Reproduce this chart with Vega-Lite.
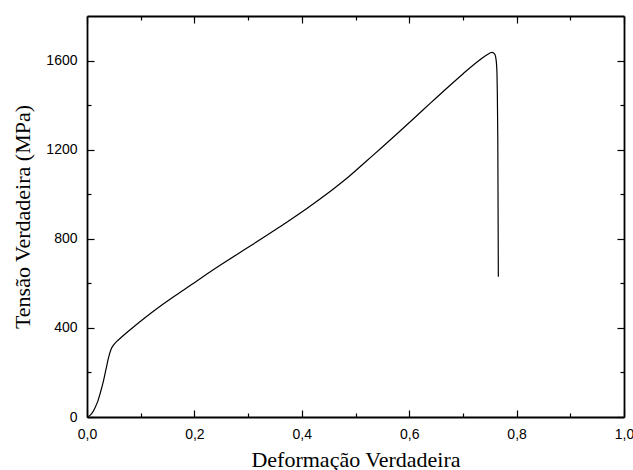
{
  "$schema": "https://vega.github.io/schema/vega-lite/v6.json",
  "width": 537,
  "height": 401,
  "autosize": {"type": "none"},
  "padding": {"left": 87, "top": 16, "right": 9, "bottom": 53},
  "background": "white",
  "config": {"view": {"stroke": null}},
  "data": {"values": [
    {"e": 0, "s": 0},
    {"e": 0.005, "s": 6},
    {"e": 0.01, "s": 20},
    {"e": 0.015, "s": 42},
    {"e": 0.02, "s": 70},
    {"e": 0.025, "s": 110},
    {"e": 0.03, "s": 155},
    {"e": 0.035, "s": 210},
    {"e": 0.04, "s": 265},
    {"e": 0.045, "s": 305},
    {"e": 0.05, "s": 325},
    {"e": 0.055, "s": 338},
    {"e": 0.065, "s": 360},
    {"e": 0.077, "s": 385},
    {"e": 0.09, "s": 411},
    {"e": 0.105, "s": 440},
    {"e": 0.12, "s": 468},
    {"e": 0.14, "s": 504},
    {"e": 0.16, "s": 538},
    {"e": 0.18, "s": 570},
    {"e": 0.2, "s": 603},
    {"e": 0.22, "s": 636},
    {"e": 0.25, "s": 684},
    {"e": 0.28, "s": 731},
    {"e": 0.31, "s": 777},
    {"e": 0.34, "s": 824},
    {"e": 0.37, "s": 871},
    {"e": 0.4, "s": 920},
    {"e": 0.43, "s": 972},
    {"e": 0.46, "s": 1026},
    {"e": 0.49, "s": 1084},
    {"e": 0.52, "s": 1148},
    {"e": 0.55, "s": 1212},
    {"e": 0.58, "s": 1277},
    {"e": 0.61, "s": 1343},
    {"e": 0.64, "s": 1410},
    {"e": 0.67, "s": 1476},
    {"e": 0.7, "s": 1540},
    {"e": 0.73, "s": 1600},
    {"e": 0.745, "s": 1626},
    {"e": 0.754, "s": 1637},
    {"e": 0.759, "s": 1630},
    {"e": 0.762, "s": 1600},
    {"e": 0.7635, "s": 1540},
    {"e": 0.764, "s": 1468},
    {"e": 0.765, "s": 1243},
    {"e": 0.766, "s": 630}
  ]},
  "layer": [
    {
      "mark": {"type": "line", "color": "black", "strokeWidth": 1.2, "interpolate": "monotone"},
      "encoding": {
        "x": {"field": "e", "type": "quantitative", "scale": {"domain": [0, 1], "nice": false},
          "axis": {"orient": "bottom", "values": [0,0.1,0.2,0.3,0.4,0.5,0.6,0.7,0.8,0.9,1.0],
            "title": "Deformação Verdadeira", "titleFont": "Liberation Serif", "titleFontSize": 22, "titleFontWeight": "normal", "titleColor": "black",
            "titleBaseline": "alphabetic", "titleY": 49,
            "labelExpr": "round(datum.value*10) % 2 === 0 ? replace(format(datum.value, '.1f'), '.', ',') : ''",
            "labelFont": "Liberation Sans", "labelFontSize": 14, "labelColor": "black", "labelPadding": 17, "labelOverlap": false, "labelFlush": false,
            "tickSize": {"condition": {"test": "round(datum.value*10) % 2 === 0", "value": -7}, "value": -4},
            "tickColor": "black", "tickWidth": 1.2, "domainColor": "black", "domainWidth": 1.8, "grid": false}},
        "y": {"field": "s", "type": "quantitative", "scale": {"domain": [0, 1800], "nice": false},
          "axis": {"orient": "left", "values": [0,200,400,600,800,1000,1200,1400,1600],
            "title": "Tensão Verdadeira (MPa)", "titleFont": "Liberation Serif", "titleFontSize": 22, "titleFontWeight": "normal", "titleColor": "black",
            "titleBaseline": "alphabetic", "titleX": -58, "titleAngle": -90,
            "labelExpr": "datum.value % 400 === 0 ? format(datum.value, 'd') : ''",
            "labelFont": "Liberation Sans", "labelFontSize": 14, "labelColor": "black", "labelPadding": 17, "labelOverlap": false, "labelFlush": false,
            "tickSize": {"condition": {"test": "datum.value % 400 === 0", "value": -7}, "value": -4},
            "tickColor": "black", "tickWidth": 1.2, "domainColor": "black", "domainWidth": 1.8, "grid": false}}
      }
    },
    {
      "mark": {"type": "point", "opacity": 0},
      "encoding": {
        "x": {"field": "e", "type": "quantitative", "scale": {"domain": [0, 1], "nice": false},
          "axis": {"orient": "top", "values": [0,0.1,0.2,0.3,0.4,0.5,0.6,0.7,0.8,0.9,1.0], "title": null, "labels": false,
            "tickSize": {"condition": {"test": "round(datum.value*10) % 2 === 0", "value": -7}, "value": -4},
            "tickColor": "black", "tickWidth": 1.2, "domainColor": "black", "domainWidth": 1.8, "grid": false}},
        "y": {"field": "s", "type": "quantitative", "scale": {"domain": [0, 1800], "nice": false},
          "axis": {"orient": "right", "values": [0,200,400,600,800,1000,1200,1400,1600], "title": null, "labels": false,
            "tickSize": {"condition": {"test": "datum.value % 400 === 0", "value": -7}, "value": -4},
            "tickColor": "black", "tickWidth": 1.2, "domainColor": "black", "domainWidth": 1.8, "grid": false}}
      }
    }
  ],
  "resolve": {"axis": {"x": "independent", "y": "independent"}}
}
